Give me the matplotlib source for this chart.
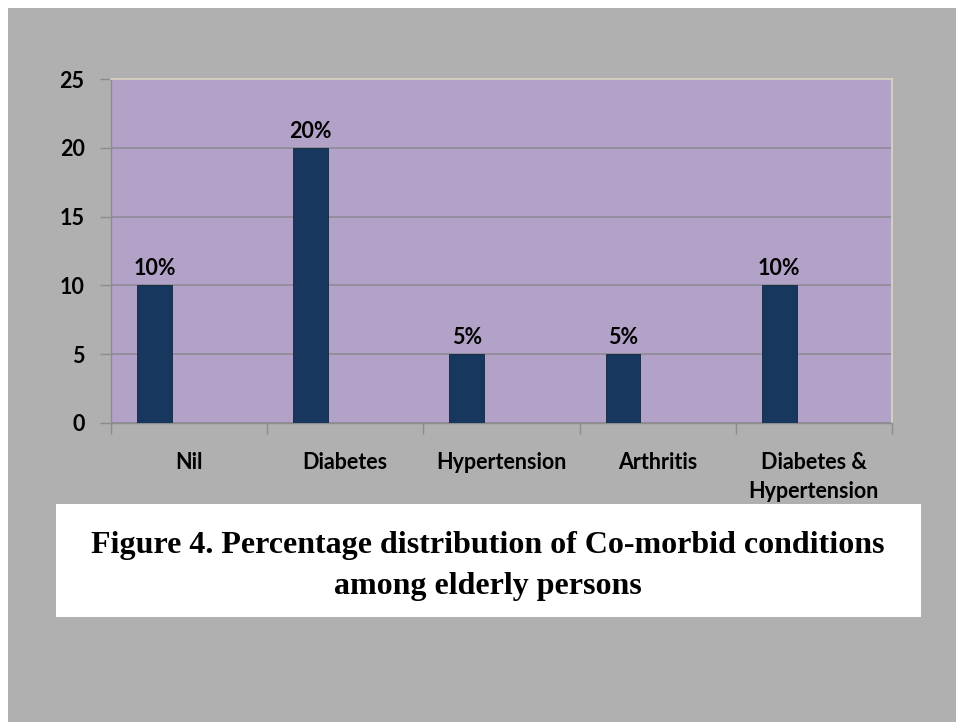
import matplotlib
matplotlib.use("Agg")
import matplotlib.pyplot as plt
from matplotlib.patches import Rectangle

# ── data ──
categories = ["Nil", "Diabetes", "Hypertension", "Arthritis", "Diabetes &\nHypertension"]
values = [10, 20, 5, 5, 10]
value_labels = ["10%", "20%", "5%", "5%", "10%"]
y_ticks = [0, 5, 10, 15, 20, 25]
caption = "Figure 4. Percentage distribution of Co-morbid conditions\namong elderly persons"

W, H = 956, 722
fig = plt.figure(figsize=(W / 100, H / 100), dpi=100, facecolor="white")

def px(x0, y0, x1, y1):
    # pixel box (top-left origin) -> figure fraction
    return [x0 / W, 1 - y1 / H, (x1 - x0) / W, (y1 - y0) / H]

# grey slide background
fig.patches.append(Rectangle((8 / W, 0), 1, 1 - 8 / H, transform=fig.transFigure,
                             facecolor="#b0b0b0", edgecolor="none", zorder=-2))
# white caption box
cb = px(56, 504, 921, 617)
fig.patches.append(Rectangle((cb[0], cb[1]), cb[2], cb[3], transform=fig.transFigure,
                             facecolor="white", edgecolor="none", zorder=-1))

ax = fig.add_axes(px(111, 79, 892, 423))
ax.set_zorder(2)
ax.set_facecolor("#b3a2c7")

# Excel style: 3 series slots per category, gap 150%, only first slot filled
bw = 1 / 4.5
xs = [i - bw for i in range(len(categories))]
ax.bar(xs, values, width=bw, color="#17375e", edgecolor="#10263f", linewidth=0.6, zorder=3)

FS = 15.5
for x, v, lab in zip(xs, values, value_labels):
    ax.annotate(lab, (x, v), xytext=(0, 4.5), textcoords="offset points",
                ha="center", va="bottom", fontsize=FS, fontweight="bold",
                family="Lato", color="black")

ax.set_xlim(-0.5, len(categories) - 0.5)
ax.set_ylim(0, 25)
ax.set_yticks(y_ticks)
ax.set_yticklabels([str(t) for t in y_ticks], fontsize=FS, fontweight="bold", family="Lato")
ax.yaxis.grid(True, color="#8f8a96", linewidth=1.2, zorder=1)
ax.set_axisbelow(True)

ax.set_xticks([i + 0.5 for i in range(-1, len(categories))])
ax.set_xticklabels([])
ax.set_xticks(range(len(categories)), minor=True)
ax.set_xticklabels(categories, minor=True, fontsize=FS, fontweight="bold",
                   family="Lato", linespacing=1.45, va="top")
ax.tick_params(axis="x", which="minor", length=0, pad=21)
ax.tick_params(axis="x", which="major", length=8, color="#8c8c8c", width=1)
ax.tick_params(axis="y", length=8, color="#8c8c8c", width=1, pad=11)

for s in ["top", "right"]:
    ax.spines[s].set_color("#ddd6c4")
    ax.spines[s].set_linewidth(1.2)
for s in ["left", "bottom"]:
    ax.spines[s].set_color("#8c8c8c")
    ax.spines[s].set_linewidth(1)

fig.text(488 / W, 1 - 566 / H, caption, ha="center", va="center", fontsize=23,
         fontweight="bold", family="Liberation Serif", linespacing=1.55, zorder=5)

fig.savefig("out.png", dpi=100, facecolor="white")
